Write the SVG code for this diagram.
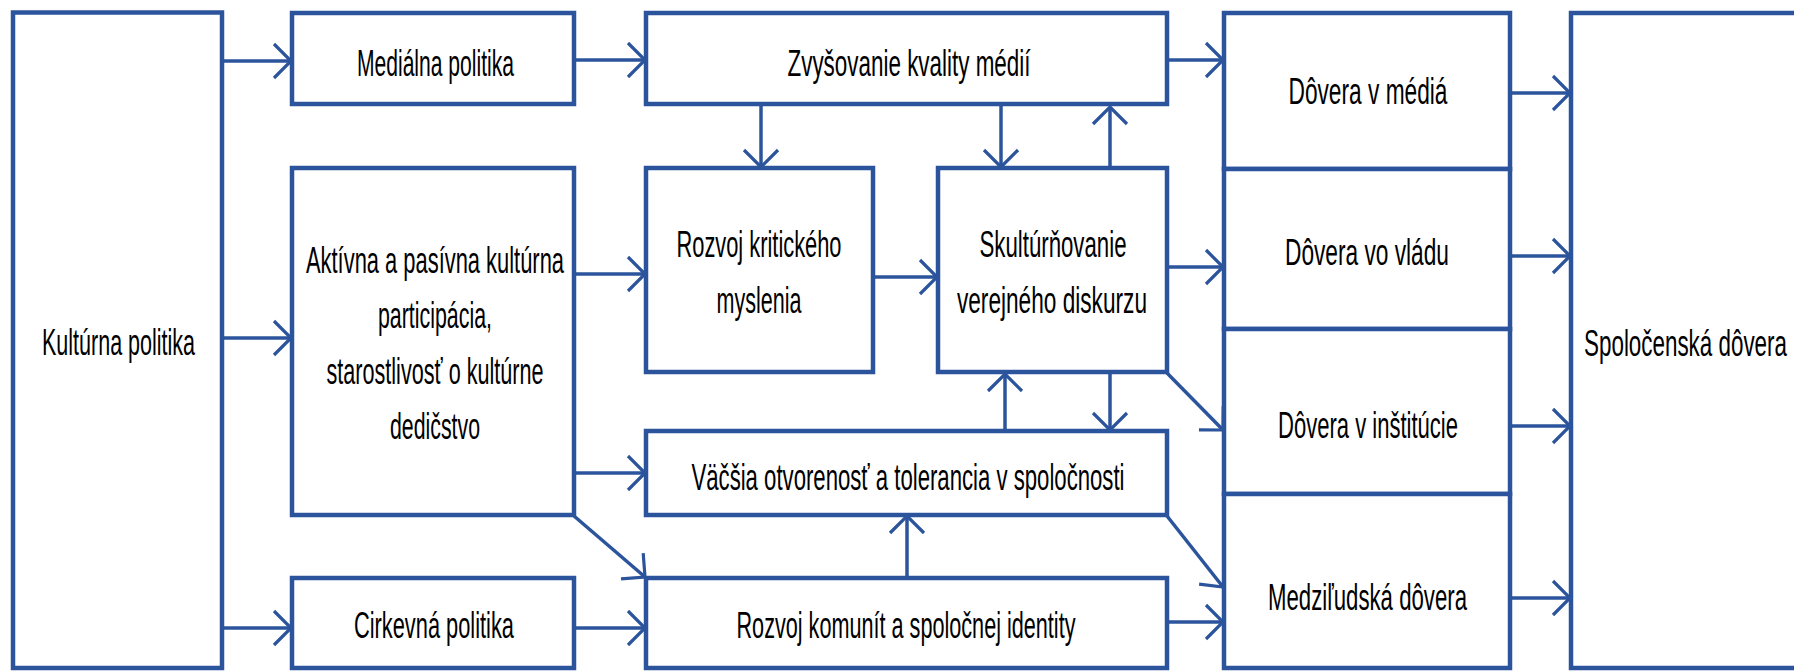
<svg xmlns="http://www.w3.org/2000/svg" width="1794" height="671" viewBox="0 0 1794 671">
<style>
.box{fill:#ffffff;stroke:#2B549C;stroke-width:4.5}
.c{fill:none;stroke:#2B549C;stroke-width:3.5;marker-end:url(#ah)}
text{font-family:"Liberation Sans",Arial,sans-serif;font-size:37px;fill:#000000;text-anchor:middle}
</style>
<defs>
<marker id="ah" markerUnits="userSpaceOnUse" markerWidth="44" markerHeight="44" viewBox="-22 -22 44 44" refX="0" refY="0" orient="auto" overflow="visible">
<path d="M-17,-17 L0,0 L-17,17" fill="none" stroke="#2B549C" stroke-width="3.2"/>
</marker>
</defs>
<rect x="0" y="0" width="1794" height="671" fill="#ffffff"/>

<g id="connectors">
<line class="c" x1="222" y1="61" x2="291" y2="61"/>
<line class="c" x1="222" y1="338" x2="291" y2="338"/>
<line class="c" x1="222" y1="628" x2="291" y2="628"/>
<line class="c" x1="574" y1="60" x2="645" y2="60"/>
<line class="c" x1="1167" y1="60" x2="1223" y2="60"/>
<line class="c" x1="761" y1="106" x2="761" y2="167"/>
<line class="c" x1="1001" y1="106" x2="1001" y2="167"/>
<line class="c" x1="1110" y1="168" x2="1110" y2="107"/>
<line class="c" x1="574" y1="274" x2="645" y2="274"/>
<line class="c" x1="873" y1="277" x2="937" y2="277"/>
<line class="c" x1="1167" y1="267" x2="1223" y2="267"/>
<line class="c" x1="1167" y1="373" x2="1223" y2="430"/>
<line class="c" x1="1005" y1="431" x2="1005" y2="374"/>
<line class="c" x1="1110" y1="373" x2="1110" y2="430"/>
<line class="c" x1="574" y1="473" x2="645" y2="473"/>
<line class="c" x1="574" y1="516" x2="645" y2="577"/>
<line class="c" x1="907" y1="578" x2="907" y2="516"/>
<line class="c" x1="1167" y1="516" x2="1223" y2="587"/>
<line class="c" x1="1167" y1="622" x2="1223" y2="622"/>
<line class="c" x1="574" y1="628" x2="645" y2="628"/>
<line class="c" x1="1510" y1="93" x2="1570" y2="93"/>
<line class="c" x1="1510" y1="256" x2="1570" y2="256"/>
<line class="c" x1="1510" y1="426" x2="1570" y2="426"/>
<line class="c" x1="1510" y1="598" x2="1570" y2="598"/>
</g>

<g id="kulturna">
<rect class="box" x="13" y="12.5" width="209" height="655.5"/>
<text transform="scale(0.6,1)" x="197.5" y="355" textLength="255" lengthAdjust="spacingAndGlyphs">Kultúrna politika</text>
</g>
<g id="medialna">
<rect class="box" x="292" y="13" width="282" height="91"/>
<text transform="scale(0.6,1)" x="725.8" y="76.5" textLength="261.7" lengthAdjust="spacingAndGlyphs">Mediálna politika</text>
</g>
<g id="aktivna">
<rect class="box" x="292" y="168" width="282" height="347"/>
<text transform="scale(0.6,1)" x="725" y="273" textLength="430" lengthAdjust="spacingAndGlyphs">Aktívna a pasívna kultúrna</text>
<text transform="scale(0.6,1)" x="725" y="328" textLength="190" lengthAdjust="spacingAndGlyphs">participácia,</text>
<text transform="scale(0.6,1)" x="725" y="384" textLength="361.7" lengthAdjust="spacingAndGlyphs">starostlivosť o kultúrne</text>
<text transform="scale(0.6,1)" x="725" y="439.5" textLength="150" lengthAdjust="spacingAndGlyphs">dedičstvo</text>
</g>
<g id="cirkevna">
<rect class="box" x="292" y="578" width="282" height="90"/>
<text transform="scale(0.6,1)" x="723.3" y="638" textLength="266.7" lengthAdjust="spacingAndGlyphs">Cirkevná politika</text>
</g>
<g id="zvysovanie">
<rect class="box" x="646" y="13" width="521" height="91"/>
<text transform="scale(0.6,1)" x="1515" y="76" textLength="405" lengthAdjust="spacingAndGlyphs">Zvyšovanie kvality médií</text>
</g>
<g id="rozvojKritickeho">
<rect class="box" x="646" y="168" width="227" height="204"/>
<text transform="scale(0.6,1)" x="1265" y="257" textLength="275" lengthAdjust="spacingAndGlyphs">Rozvoj kritického</text>
<text transform="scale(0.6,1)" x="1265" y="313" textLength="141.7" lengthAdjust="spacingAndGlyphs">myslenia</text>
</g>
<g id="skulturnovanie">
<rect class="box" x="938" y="168" width="229" height="204"/>
<text transform="scale(0.6,1)" x="1755" y="257" textLength="245" lengthAdjust="spacingAndGlyphs">Skultúrňovanie</text>
<text transform="scale(0.6,1)" x="1753.3" y="313" textLength="316.7" lengthAdjust="spacingAndGlyphs">verejného diskurzu</text>
</g>
<g id="vacsia">
<rect class="box" x="646" y="431" width="521" height="84"/>
<text transform="scale(0.6,1)" x="1513.3" y="490" textLength="721.7" lengthAdjust="spacingAndGlyphs">Väčšia otvorenosť a tolerancia v spoločnosti</text>
</g>
<g id="rozvojKomunit">
<rect class="box" x="646" y="578" width="521" height="90"/>
<text transform="scale(0.6,1)" x="1510" y="638" textLength="565" lengthAdjust="spacingAndGlyphs">Rozvoj komunít a spoločnej identity</text>
</g>
<g id="doveraMedia">
<rect class="box" x="1224" y="13" width="286" height="156"/>
<text transform="scale(0.6,1)" x="2280" y="104" textLength="265" lengthAdjust="spacingAndGlyphs">Dôvera v médiá</text>
</g>
<g id="doveraVlada">
<rect class="box" x="1224" y="169" width="286" height="160"/>
<text transform="scale(0.6,1)" x="2278.3" y="265" textLength="273.3" lengthAdjust="spacingAndGlyphs">Dôvera vo vládu</text>
</g>
<g id="doveraInstitucie">
<rect class="box" x="1224" y="329" width="286" height="165"/>
<text transform="scale(0.6,1)" x="2280" y="438" textLength="300" lengthAdjust="spacingAndGlyphs">Dôvera v inštitúcie</text>
</g>
<g id="medziludska">
<rect class="box" x="1224" y="494" width="286" height="174"/>
<text transform="scale(0.6,1)" x="2279.2" y="610" textLength="331.7" lengthAdjust="spacingAndGlyphs">Medziľudská dôvera</text>
</g>
<g id="spolocenska">
<rect class="box" x="1571" y="13" width="240" height="655"/>
<text transform="scale(0.6,1)" x="2809.2" y="356" textLength="338.3" lengthAdjust="spacingAndGlyphs">Spoločenská dôvera</text>
</g>
</svg>
